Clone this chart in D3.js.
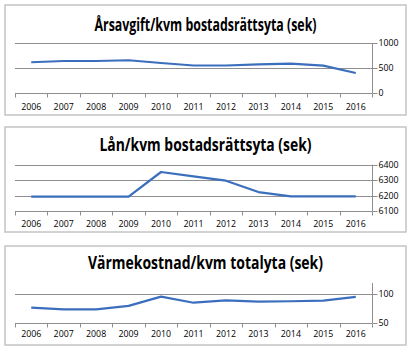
<!DOCTYPE html>
<html><head><meta charset="utf-8">
<script src="https://cdn.jsdelivr.net/npm/d3@7"></script>
<style>body{margin:0;background:#fff}svg{display:block}</style>
</head><body>
<script>
const years = ["2006","2007","2008","2009","2010","2011","2012","2013","2014","2015","2016"];
const arsavgift = [615, 640, 640, 655, 600, 550, 550, 572, 587, 547, 400];
const lan = [6195, 6195, 6195, 6195, 6353, 6325, 6297, 6224, 6196, 6196, 6196];
const varme = [76.5, 73.5, 73.5, 79.5, 95.5, 85, 89, 87, 87.5, 88.5, 95];
const titles = ["Årsavgift/kvm bostadsrättsyta (sek)", "Lån/kvm bostadsrättsyta (sek)", "Värmekostnad/kvm totalyta (sek)"];
const yTicks1 = [0, 500, 1000];
const yTicks2 = [6100, 6200, 6300, 6400];
const yTicks3 = [50, 100];

const W = 414, H = 352;
const svg = d3.select("body").append("svg").attr("width", W).attr("height", H);

const panels = [
  {box:[5,5,406,115], titleY:24, titleW:222, data:arsavgift, domain:[0,1000], ticks:yTicks1, yr:[93,43], labY:107, title:titles[0]},
  {box:[5,127,406,232], titleY:144, titleW:212, data:lan, domain:[6100,6400], ticks:yTicks2, yr:[211.3,164.7], labY:224, title:titles[1]},
  {box:[5,246,406,345], titleY:262, titleW:235, data:varme, domain:[50,119], ticks:yTicks3, yr:[323,283], labY:334, title:titles[2]}
];
const xL = 15, xR = 372;
const font = "'Open Sans', 'Liberation Sans', sans-serif";

panels.forEach(p => {
  const g = svg.append("g");
  const [x0,y0,x1,y1] = p.box;
  g.append("rect").attr("x",x0).attr("y",y0).attr("width",x1-x0).attr("height",y1-y0)
    .attr("fill","#fff").attr("stroke","#c4c4c4").attr("stroke-width",1.5);
  g.append("text").attr("x",(x0+x1)/2).attr("y",p.titleY).attr("text-anchor","middle")
    .attr("dominant-baseline","central").attr("font-family",font).attr("font-weight","bold")
    .attr("font-size",17.5).attr("textLength",p.titleW).attr("lengthAdjust","spacingAndGlyphs")
    .attr("fill","#000").text(p.title);
  const x = d3.scaleBand().domain(years).range([xL,xR]);
  const y = d3.scaleLinear().domain(p.domain).range(p.yr);
  g.selectAll("line.grid").data(p.ticks.filter(d=>d!==p.domain[0])).enter().append("line")
    .attr("x1",xL).attr("x2",xR).attr("y1",d=>Math.round(y(d))+0.5).attr("y2",d=>Math.round(y(d))+0.5)
    .attr("stroke","#8f8f8f").attr("stroke-width",1);
  const xa = g.append("g").attr("transform",`translate(0,${Math.round(p.yr[0])+0.5})`);
  xa.append("line").attr("x1",xL).attr("x2",xR).attr("stroke","#8f8f8f");
  const bounds = years.map(d=>x(d)).concat([xR]);
  xa.selectAll("line.tk").data(bounds).enter().append("line")
    .attr("x1",d=>Math.round(d)+0.5).attr("x2",d=>Math.round(d)+0.5).attr("y1",0).attr("y2",4).attr("stroke","#8f8f8f");
  g.selectAll("text.xl").data(years).enter().append("text")
    .attr("x",d=>x(d)+x.bandwidth()/2).attr("y",p.labY).attr("text-anchor","middle")
    .attr("dominant-baseline","central").attr("font-family",font).attr("font-size",8.8).attr("fill","#000").text(d=>d);
  const ya = g.append("g").attr("transform",`translate(${xR+0.5},0)`);
  ya.append("line").attr("y1",y(p.domain[1])).attr("y2",p.yr[0]).attr("stroke","#8f8f8f");
  ya.selectAll("line.yt").data(p.ticks).enter().append("line")
    .attr("x1",0).attr("x2",5).attr("y1",d=>Math.round(y(d))+0.5).attr("y2",d=>Math.round(y(d))+0.5).attr("stroke","#8f8f8f");
  ya.selectAll("text").data(p.ticks).enter().append("text")
    .attr("x",6).attr("y",d=>y(d)).attr("dominant-baseline","central").attr("font-family",font)
    .attr("font-size",8.8).attr("fill","#000").text(d=>d);
  const line = d3.line().x((d,i)=>x(years[i])+x.bandwidth()/2).y(d=>y(d));
  g.append("path").datum(p.data).attr("d",line).attr("fill","none")
    .attr("stroke","#3b6fbd").attr("stroke-width",2.2).attr("stroke-linejoin","round");
});
</script>
</body></html>
